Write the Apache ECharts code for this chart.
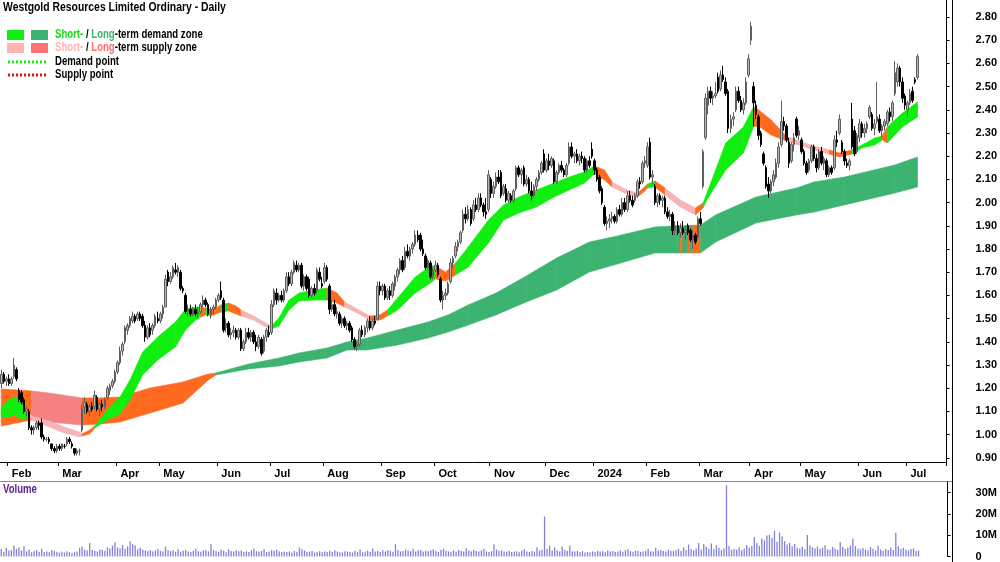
<!DOCTYPE html>
<html><head><meta charset="utf-8">
<script src="https://cdn.jsdelivr.net/npm/echarts@6.0.0/dist/echarts.min.js"></script>
<style>html,body{margin:0;padding:0;background:#fff}#c{width:1000px;height:562px}</style>
</head><body><div id="c"></div>
<script>
// ---- categories: trading days per month (first 3 = end of Jan 2023, unlabeled) ----
const monthNames = ['-','Feb','Mar','Apr','May','Jun','Jul','Aug','Sep','Oct','Nov','Dec','2024','Feb','Mar','Apr','May','Jun','Jul'];
const monthDays  = [3,20,23,17,23,21,21,23,21,22,22,19,21,21,20,20,23,19,5];
const padDays = 11;

// ---- price ticks ----
const priceTicks = [0.9,1.0,1.1,1.2,1.3,1.4,1.5,1.6,1.7,1.8,1.9,2.0,2.1,2.2,2.3,2.4,2.5,2.6,2.7,2.8];
const volTicks = [0,10e6,20e6,30e6];

// ---- OHLC ----
const open = [
1.22,1.26,1.23,1.24,1.22,1.25,1.28,1.19,1.18,1.15,
1.10,1.10,1.03,1.02,1.03,1.05,1.05,0.99,0.98,0.98,
0.96,0.94,0.93,0.95,0.94,0.95,0.96,0.98,0.96,0.94,
0.92,0.93,1.02,1.12,1.13,1.10,1.12,1.12,1.16,1.11,
1.13,1.12,1.16,1.19,1.21,1.23,1.27,1.31,1.36,1.40,
1.45,1.47,1.49,1.51,1.50,1.52,1.51,1.47,1.42,1.46,
1.45,1.47,1.50,1.49,1.52,1.55,1.70,1.66,1.68,1.71,
1.70,1.70,1.63,1.60,1.53,1.54,1.52,1.54,1.52,1.53,
1.56,1.58,1.56,1.52,1.54,1.55,1.58,1.62,1.58,1.46,
1.48,1.43,1.44,1.45,1.42,1.45,1.37,1.40,1.44,1.42,
1.44,1.40,1.38,1.41,1.36,1.42,1.44,1.44,1.56,1.61,
1.58,1.60,1.58,1.62,1.68,1.65,1.70,1.73,1.71,1.73,
1.64,1.68,1.67,1.60,1.63,1.62,1.70,1.65,1.66,1.72,
1.64,1.54,1.56,1.52,1.52,1.48,1.50,1.47,1.48,1.46,
1.41,1.38,1.39,1.45,1.43,1.46,1.49,1.46,1.49,1.50,
1.64,1.62,1.64,1.59,1.62,1.60,1.64,1.68,1.71,1.75,
1.72,1.79,1.77,1.80,1.82,1.86,1.86,1.80,1.77,1.72,
1.74,1.68,1.71,1.73,1.67,1.58,1.60,1.61,1.66,1.74,
1.77,1.81,1.83,1.88,1.95,1.93,1.97,1.93,1.99,1.97,
2.02,1.99,1.96,1.97,2.10,2.04,2.07,2.11,2.13,2.04,
2.06,2.01,2.03,2.01,2.06,2.15,2.12,2.15,2.08,2.10,
2.05,2.03,2.07,2.10,2.13,2.21,2.14,2.18,2.16,2.18,
2.09,2.13,2.16,2.14,2.12,2.17,2.24,2.20,2.21,2.18,
2.20,2.19,2.14,2.18,2.23,2.18,2.14,2.11,2.06,1.98,
1.91,1.92,1.93,1.94,1.92,1.97,1.95,2.00,1.97,2.03,
2.01,2.01,2.03,2.09,2.09,2.17,2.16,2.26,2.11,2.07,
2.00,2.03,2.01,2.02,1.96,1.94,1.95,1.88,1.90,1.87,
1.89,1.87,1.90,1.88,1.84,1.86,1.85,1.93,2.07,2.28,
2.42,2.48,2.45,2.46,2.54,2.49,2.55,2.52,2.48,2.32,
2.36,2.40,2.48,2.44,2.40,2.43,2.55,2.70,2.50,2.42,
2.37,2.30,2.21,2.15,2.08,2.05,2.09,2.11,2.17,2.25,
2.35,2.33,2.26,2.18,2.25,2.36,2.29,2.27,2.22,2.17,
2.14,2.18,2.24,2.19,2.15,2.22,2.17,2.18,2.12,2.15,
2.15,2.27,2.30,2.26,2.22,2.17,2.16,2.36,2.31,2.22,
2.28,2.34,2.30,2.32,2.37,2.38,2.32,2.35,2.36,2.31,
2.33,2.34,2.39,2.37,2.47,2.52,2.58,2.52,2.46,2.40,
2.43,2.48,2.53,2.54];
const high = [
1.28,1.27,1.25,1.26,1.25,1.33,1.29,1.20,1.19,1.16,
1.12,1.11,1.04,1.04,1.06,1.06,1.07,1.00,0.99,0.99,
0.96,0.95,0.96,0.96,0.96,0.96,0.99,0.99,0.97,0.94,
0.94,0.94,1.13,1.16,1.14,1.13,1.14,1.19,1.17,1.14,
1.15,1.16,1.21,1.22,1.24,1.28,1.32,1.38,1.40,1.47,
1.48,1.51,1.53,1.52,1.53,1.53,1.52,1.49,1.47,1.48,
1.48,1.52,1.53,1.53,1.56,1.69,1.71,1.70,1.73,1.74,
1.73,1.71,1.64,1.61,1.56,1.56,1.55,1.56,1.55,1.57,
1.60,1.59,1.57,1.55,1.56,1.59,1.61,1.66,1.59,1.50,
1.49,1.46,1.47,1.46,1.46,1.46,1.41,1.46,1.46,1.45,
1.45,1.43,1.43,1.42,1.43,1.46,1.47,1.58,1.63,1.63,
1.61,1.62,1.63,1.70,1.70,1.71,1.75,1.75,1.74,1.74,
1.69,1.69,1.68,1.64,1.65,1.72,1.72,1.68,1.74,1.73,
1.65,1.58,1.58,1.55,1.53,1.51,1.51,1.49,1.49,1.47,
1.42,1.40,1.46,1.47,1.47,1.50,1.51,1.50,1.51,1.66,
1.66,1.65,1.65,1.63,1.64,1.66,1.69,1.72,1.76,1.77,
1.81,1.82,1.81,1.83,1.88,1.88,1.87,1.84,1.78,1.76,
1.75,1.72,1.75,1.74,1.68,1.62,1.63,1.66,1.76,1.77,
1.83,1.84,1.88,1.97,1.98,1.99,1.98,2.01,2.02,2.04,
2.04,2.00,2.02,2.14,2.11,2.09,2.13,2.14,2.14,2.08,
2.08,2.05,2.04,2.06,2.16,2.16,2.15,2.16,2.12,2.11,
2.09,2.08,2.11,2.14,2.18,2.23,2.19,2.21,2.20,2.19,
2.14,2.17,2.18,2.15,2.17,2.26,2.26,2.22,2.23,2.21,
2.22,2.20,2.19,2.20,2.26,2.19,2.15,2.12,2.07,1.99,
1.94,1.95,1.96,1.95,1.98,1.99,2.02,2.02,2.05,2.05,
2.03,2.04,2.10,2.11,2.18,2.20,2.26,2.28,2.14,2.08,
2.04,2.04,2.03,2.03,1.98,1.97,1.96,1.92,1.92,1.91,
1.92,1.90,1.91,1.89,1.88,1.87,1.94,1.96,2.23,2.47,
2.50,2.50,2.48,2.52,2.56,2.57,2.59,2.54,2.49,2.38,
2.39,2.50,2.50,2.46,2.45,2.54,2.64,2.78,2.52,2.44,
2.38,2.31,2.22,2.16,2.11,2.10,2.14,2.19,2.26,2.44,
2.37,2.34,2.28,2.26,2.30,2.37,2.33,2.28,2.23,2.18,
2.19,2.25,2.25,2.21,2.23,2.24,2.20,2.19,2.16,2.16,
2.29,2.31,2.38,2.27,2.23,2.19,2.19,2.43,2.33,2.30,
2.36,2.35,2.34,2.35,2.42,2.39,2.36,2.52,2.38,2.34,
2.36,2.40,2.41,2.44,2.61,2.60,2.59,2.54,2.47,2.44,
2.49,2.50,2.54,2.64];
const low = [
1.20,1.22,1.21,1.21,1.21,1.24,1.23,1.14,1.13,1.09,
1.08,1.02,1.00,1.00,1.02,1.02,0.98,0.97,0.97,0.96,
0.93,0.92,0.92,0.93,0.93,0.94,0.95,0.96,0.94,0.91,
0.91,0.91,1.01,1.09,1.09,1.08,1.10,1.11,1.10,1.08,
1.10,1.11,1.15,1.17,1.20,1.22,1.26,1.30,1.34,1.39,
1.43,1.46,1.48,1.48,1.49,1.49,1.46,1.40,1.41,1.42,
1.43,1.46,1.48,1.48,1.50,1.55,1.64,1.65,1.67,1.69,
1.68,1.62,1.61,1.52,1.51,1.51,1.51,1.51,1.50,1.52,
1.55,1.55,1.51,1.50,1.52,1.54,1.57,1.58,1.44,1.44,
1.42,1.41,1.42,1.41,1.41,1.36,1.36,1.39,1.41,1.40,
1.39,1.36,1.37,1.34,1.35,1.40,1.42,1.43,1.55,1.56,
1.57,1.57,1.57,1.61,1.64,1.64,1.69,1.70,1.70,1.63,
1.62,1.62,1.59,1.59,1.60,1.61,1.66,1.63,1.65,1.66,
1.52,1.53,1.51,1.50,1.47,1.46,1.46,1.45,1.44,1.40,
1.37,1.36,1.38,1.42,1.42,1.44,1.45,1.45,1.47,1.49,
1.60,1.60,1.58,1.58,1.58,1.59,1.62,1.66,1.69,1.70,
1.71,1.76,1.75,1.78,1.81,1.83,1.79,1.77,1.71,1.71,
1.67,1.67,1.70,1.68,1.57,1.54,1.58,1.60,1.65,1.72,
1.76,1.79,1.82,1.87,1.91,1.92,1.90,1.92,1.96,1.96,
1.98,1.94,1.93,1.96,2.02,2.02,2.06,2.08,2.02,2.03,
2.00,2.00,2.00,2.00,2.05,2.11,2.08,2.07,2.07,2.04,
2.01,2.02,2.05,2.09,2.12,2.13,2.13,2.14,2.15,2.08,
2.08,2.12,2.13,2.11,2.11,2.16,2.19,2.17,2.17,2.16,
2.17,2.13,2.13,2.15,2.19,2.12,2.09,2.04,1.99,1.90,
1.88,1.89,1.91,1.91,1.91,1.94,1.94,1.96,1.96,2.00,
1.98,2.00,2.02,2.06,2.08,2.15,2.15,2.10,2.08,1.99,
1.98,1.99,1.98,1.95,1.93,1.92,1.86,1.86,1.86,1.85,
1.86,1.84,1.86,1.83,1.80,1.82,1.84,1.90,2.06,2.27,
2.38,2.43,2.42,2.45,2.47,2.48,2.52,2.46,2.30,2.30,
2.33,2.39,2.43,2.39,2.38,2.42,2.54,2.68,2.33,2.36,
2.27,2.24,2.16,2.06,2.02,2.04,2.07,2.10,2.15,2.24,
2.31,2.26,2.15,2.17,2.22,2.28,2.27,2.21,2.16,2.12,
2.13,2.17,2.18,2.13,2.14,2.16,2.14,2.11,2.11,2.12,
2.14,2.24,2.29,2.21,2.16,2.15,2.14,2.23,2.20,2.21,
2.26,2.28,2.28,2.30,2.36,2.31,2.29,2.34,2.30,2.28,
2.31,2.33,2.35,2.35,2.46,2.50,2.50,2.43,2.40,2.37,
2.42,2.43,2.51,2.53];
const close = [
1.26,1.23,1.24,1.22,1.24,1.30,1.24,1.15,1.14,1.10,
1.11,1.03,1.02,1.03,1.05,1.04,0.99,0.98,0.98,0.97,
0.94,0.93,0.95,0.94,0.96,0.95,0.98,0.97,0.95,0.92,
0.93,0.93,1.11,1.14,1.10,1.12,1.11,1.17,1.11,1.13,
1.12,1.15,1.20,1.21,1.23,1.27,1.31,1.36,1.39,1.46,
1.47,1.50,1.51,1.49,1.52,1.50,1.47,1.42,1.46,1.43,
1.47,1.51,1.49,1.52,1.55,1.67,1.66,1.68,1.72,1.70,
1.72,1.63,1.62,1.53,1.54,1.52,1.54,1.52,1.53,1.56,
1.58,1.56,1.52,1.54,1.55,1.58,1.60,1.59,1.45,1.48,
1.43,1.44,1.45,1.42,1.45,1.37,1.40,1.44,1.42,1.44,
1.40,1.38,1.42,1.35,1.42,1.45,1.43,1.56,1.62,1.58,
1.60,1.58,1.62,1.68,1.65,1.70,1.74,1.71,1.73,1.64,
1.68,1.63,1.60,1.63,1.61,1.71,1.67,1.64,1.72,1.67,
1.54,1.56,1.52,1.53,1.48,1.50,1.47,1.48,1.45,1.41,
1.38,1.39,1.45,1.43,1.46,1.49,1.46,1.49,1.48,1.64,
1.62,1.64,1.59,1.62,1.60,1.65,1.68,1.71,1.75,1.71,
1.79,1.77,1.80,1.82,1.86,1.84,1.80,1.78,1.72,1.75,
1.68,1.71,1.73,1.69,1.58,1.60,1.61,1.65,1.74,1.76,
1.81,1.83,1.87,1.95,1.93,1.97,1.91,1.99,1.97,2.02,
1.99,1.96,1.95,2.12,2.04,2.07,2.11,2.09,2.03,2.07,
2.01,2.04,2.01,2.05,2.15,2.12,2.14,2.08,2.10,2.05,
2.03,2.07,2.10,2.13,2.17,2.14,2.18,2.16,2.19,2.09,
2.13,2.16,2.14,2.12,2.16,2.24,2.20,2.21,2.18,2.20,
2.19,2.14,2.18,2.16,2.20,2.14,2.10,2.05,2.00,1.91,
1.92,1.93,1.94,1.92,1.97,1.95,2.00,1.97,2.03,2.01,
1.99,2.03,2.09,2.08,2.17,2.18,2.24,2.11,2.12,2.00,
2.03,2.01,2.02,1.96,1.94,1.95,1.88,1.90,1.87,1.89,
1.87,1.88,1.87,1.84,1.86,1.83,1.93,1.91,2.22,2.45,
2.48,2.45,2.46,2.47,2.48,2.55,2.53,2.47,2.32,2.36,
2.37,2.48,2.44,2.40,2.43,2.52,2.62,2.76,2.43,2.38,
2.29,2.25,2.17,2.07,2.05,2.09,2.12,2.17,2.24,2.35,
2.33,2.27,2.17,2.25,2.28,2.29,2.31,2.22,2.17,2.13,
2.18,2.24,2.19,2.15,2.22,2.17,2.19,2.12,2.15,2.13,
2.27,2.26,2.36,2.22,2.18,2.16,2.18,2.24,2.21,2.29,
2.34,2.30,2.32,2.34,2.41,2.32,2.34,2.37,2.31,2.33,
2.35,2.39,2.37,2.43,2.56,2.58,2.52,2.45,2.42,2.43,
2.47,2.44,2.52,2.63];

// ---- volume (millions) ----
const volume = [
3.5,2.2,4.1,2.8,3.0,5.2,3.6,4.4,2.9,4.8,2.5,3.3,2.0,2.6,3.1,2.2,3.6,2.1,2.4,2.0,
3.0,2.6,2.2,1.8,2.3,1.9,2.5,2.0,1.7,2.2,2.4,4.1,4.6,3.2,2.8,6.3,3.1,2.6,2.4,3.3,
3.0,2.7,4.3,3.8,5.1,6.7,4.2,3.9,5.4,3.6,4.8,7.2,5.9,5.3,3.4,4.1,3.2,2.8,2.6,3.0,
2.4,2.9,3.5,2.7,2.5,4.6,3.1,2.6,2.9,2.3,3.4,2.2,2.7,3.0,2.4,2.1,2.8,3.6,2.5,2.2,
2.9,3.1,2.4,5.8,3.0,2.6,2.3,3.3,2.7,2.0,3.4,2.6,2.3,2.9,2.5,2.8,2.2,2.4,2.1,3.0,
3.7,2.5,2.2,2.6,3.4,2.1,2.3,3.0,2.7,3.2,2.5,2.0,2.4,2.1,2.3,1.9,2.6,2.2,4.2,3.4,
2.8,2.1,2.3,2.6,1.9,2.2,2.5,2.0,2.3,2.1,2.7,2.2,2.9,2.4,2.0,1.9,2.5,2.3,2.2,1.8,
2.6,2.1,3.3,2.0,2.4,2.7,2.2,3.8,2.3,2.6,2.1,2.9,2.4,3.1,2.7,2.2,5.8,3.0,2.4,2.6,
3.3,2.8,2.5,3.6,2.4,2.9,3.0,2.3,2.7,2.5,2.9,3.4,2.6,2.1,3.0,3.7,2.8,2.4,2.2,2.9,
2.3,3.1,2.6,2.4,3.9,2.8,2.5,3.2,2.6,2.3,2.9,3.6,2.4,2.1,2.5,5.7,3.3,2.6,2.9,2.4,
2.2,2.7,2.1,2.3,2.5,2.0,2.8,3.4,2.4,2.1,2.6,2.3,4.4,2.8,3.2,18.8,3.6,5.1,2.8,4.2,
2.9,2.5,4.6,3.1,2.7,5.0,2.4,2.3,2.6,2.1,2.5,1.9,2.2,2.0,2.4,2.1,2.7,2.3,2.5,2.0,
2.8,2.3,2.6,2.1,2.4,2.9,2.2,3.0,3.4,2.5,2.2,2.8,2.6,2.1,2.4,2.7,3.5,2.5,2.3,4.1,
2.8,3.0,2.6,2.4,3.2,2.7,2.5,2.9,3.7,2.6,4.3,3.1,5.6,3.4,2.9,3.8,6.4,3.2,5.9,4.6,
3.6,6.1,3.4,5.3,4.1,3.0,3.7,33.5,4.8,3.1,3.5,3.2,4.3,2.9,3.6,5.4,4.2,4.9,9.2,6.3,
5.1,8.4,7.6,9.9,10.2,8.8,12.1,6.9,11.3,9.4,7.2,5.6,6.5,4.8,5.9,4.1,3.8,4.6,3.5,10.1,
5.2,4.3,3.9,4.7,3.6,4.1,5.3,3.4,3.0,4.5,3.8,3.2,6.8,4.6,3.5,4.1,5.2,8.3,4.9,3.7,
3.4,4.0,3.1,2.8,4.4,3.6,2.9,5.1,3.3,2.7,3.5,3.0,4.2,3.1,11.2,4.8,3.6,4.1,3.3,2.9,
3.5,3.9,2.6,2.8];

// ---- zones: [dayIndex, lower, upper, state]  D = demand, S = supply, X = transition ----
const shortZone = [
[0,1.076,1.119,'D'],[3,1.076,1.149,'D'],[5,1.084,1.162,'D'],[7,1.072,1.153,'D'],[9,1.063,1.128,'D'],
[11,1.089,1.097,'S'],[12,1.063,1.080,'S'],[19,1.033,1.059,'S'],[25,1.007,1.033,'S'],[31,0.990,1.011,'S'],
[32,0.994,1.003,'X'],[35,1.003,1.020,'X'],[37,1.028,1.037,'D'],[42,1.063,1.106,'D'],[47,1.089,1.162,'D'],
[51,1.149,1.235,'D'],[56,1.257,1.356,'D'],[62,1.322,1.421,'D'],[69,1.378,1.485,'D'],[73,1.451,1.541,'D'],
[77,1.494,1.550,'D'],[79,1.507,1.550,'X'],[81,1.516,1.546,'D'],[83,1.511,1.541,'X'],[85,1.520,1.546,'X'],
[87,1.528,1.559,'D'],[90,1.533,1.567,'X'],[93,1.520,1.554,'X'],[95,1.511,1.537,'S'],[100,1.494,1.511,'S'],
[104,1.468,1.485,'S'],[107,1.455,1.468,'D'],[110,1.468,1.503,'D'],[114,1.537,1.580,'D'],[118,1.576,1.610,'D'],
[124,1.580,1.623,'D'],[129,1.580,1.632,'X'],[133,1.567,1.610,'X'],[136,1.550,1.572,'S'],[141,1.524,1.541,'S'],
[146,1.494,1.511,'X'],[150,1.494,1.516,'X'],[153,1.511,1.537,'D'],[157,1.537,1.589,'D'],[164,1.610,1.679,'D'],
[170,1.653,1.727,'D'],[172,1.671,1.727,'X'],[176,1.662,1.701,'X'],[180,1.688,1.740,'D'],[185,1.722,1.809,'D'],
[193,1.826,1.925,'D'],[199,1.925,1.990,'D'],[205,1.955,2.024,'D'],[212,1.981,2.054,'D'],[219,2.024,2.084,'D'],
[225,2.054,2.110,'D'],[231,2.084,2.132,'D'],[235,2.123,2.158,'X'],[239,2.097,2.141,'X'],[242,2.067,2.089,'S'],
[247,2.041,2.059,'S'],[252,2.024,2.041,'X'],[254,2.041,2.059,'X'],[256,2.063,2.080,'D'],[259,2.067,2.093,'X'],
[263,2.033,2.063,'S'],[269,1.981,2.011,'S'],[275,1.947,1.977,'X'],[278,1.977,1.998,'D'],[280,2.020,2.054,'D'],
[287,2.141,2.257,'D'],[294,2.214,2.326,'D'],[298,2.326,2.412,'X'],[300,2.330,2.400,'X'],[305,2.291,2.356,'X'],
[311,2.266,2.287,'S'],[316,2.248,2.266,'S'],[322,2.227,2.244,'S'],[328,2.209,2.227,'X'],[332,2.197,2.214,'X'],
[337,2.209,2.227,'D'],[341,2.235,2.248,'D'],[346,2.248,2.278,'D'],[349,2.270,2.287,'X'],[351,2.257,2.326,'D'],
[357,2.326,2.386,'D'],[363,2.369,2.434,'D']];
const longZone = [
[0,1.037,1.197,'X'],[12,1.063,1.188,'S'],[19,1.054,1.179,'S'],[32,1.041,1.158,'X'],[39,1.046,1.158,'X'],
[47,1.054,1.162,'X'],[59,1.093,1.201,'X'],[72,1.136,1.227,'X'],[82,1.235,1.261,'X'],[85,1.257,1.266,'D'],
[98,1.283,1.304,'D'],[110,1.296,1.330,'D'],[118,1.313,1.352,'D'],[129,1.330,1.373,'D'],[137,1.365,1.399,'D'],
[145,1.365,1.416,'D'],[157,1.386,1.451,'D'],[169,1.416,1.485,'D'],[177,1.442,1.516,'D'],[185,1.472,1.559,'D'],
[196,1.516,1.610,'D'],[208,1.572,1.684,'D'],[220,1.623,1.761,'D'],[233,1.701,1.830,'D'],[244,1.735,1.856,'D'],
[259,1.783,1.895,'D'],[268,1.783,1.900,'D'],[269,1.783,1.900,'X'],[270,1.783,1.900,'D'],[272,1.783,1.901,'X'],
[273,1.783,1.901,'D'],[274,1.783,1.902,'X'],[277,1.783,1.903,'D'],[283,1.830,1.947,'D'],[299,1.912,2.024,'D'],
[315,1.947,2.063,'D'],[322,1.959,2.089,'D'],[334,1.990,2.110,'D'],[354,2.041,2.162,'D'],[363,2.067,2.197,'D']];

// ---------------- build ----------------
const FONT = '"Liberation Sans",Arial,sans-serif';
const cats = [];
monthNames.forEach((m, k) => { for (let d = 1; d <= monthDays[k]; d++) cats.push(m + '#' + d); });
for (let d = 1; d <= padDays; d++) cats.push('pad#' + d);
const showTick = (idx, v) => { const p = String(v).split('#'); return p[1] === '1' && p[0] !== '-' && p[0] !== 'pad'; };

const shortColors = { D: '#10ee10', S: '#f6b4b4', X: '#ff6a1e' };
const longColors  = { D: '#3cb371', S: '#f58282', X: '#ff6a1e' };

function bandRender(zone, colors) {
  return function (params, api) {
    const k = params.dataIndex;
    if (k >= zone.length - 1) return null;
    const a = zone[k], b = zone[k + 1];
    const pts = [api.coord([a[0], a[1]]), api.coord([b[0], b[1]]), api.coord([b[0], b[2]]), api.coord([a[0], a[2]])];
    const c = colors[a[3]];
    return { type: 'polygon', shape: { points: pts }, style: { fill: c, stroke: c, lineWidth: 0.6 } };
  };
}

const candleData = open.map((o, i) => [o, close[i], low[i], high[i]]);
const volData = volume.map(v => v * 1e6);

// narrow-looking text: bold Liberation Sans squeezed horizontally
const SQ = 0.8;
const ntext = (x, y, text, size, extra) => ({ type: 'text', x: x, y: y, scaleX: SQ, silent: true,
  style: Object.assign({ text: text, font: 'bold ' + size + 'px ' + FONT, fill: '#000', verticalAlign: 'middle', align: 'left' }, extra || {}) });
const richLeg = (a, aCol, b, bCol, rest) => ({
  text: '{a|' + a + '}{k| / }{b|' + b + '}{k|' + rest + '}',
  rich: { a: { fill: aCol, font: 'bold 12px ' + FONT }, b: { fill: bCol, font: 'bold 12px ' + FONT },
          k: { fill: '#000', font: 'bold 12px ' + FONT } } });

const chart = echarts.init(document.getElementById('c'), null, { renderer: 'canvas' });
chart.setOption({
  animation: false,
  backgroundColor: '#fff',
  grid: [
    { left: 0, right: 48, top: 0, height: 462, containLabel: false },
    { left: 0, right: 48, top: 482, height: 78, containLabel: false }
  ],
  xAxis: [
    { type: 'category', gridIndex: 0, data: cats, boundaryGap: true,
      axisLine: { show: true, lineStyle: { color: '#000', width: 1 } },
      axisTick: { show: true, interval: showTick, length: 4, lineStyle: { color: '#000' } },
      axisLabel: { show: true, interval: showTick, formatter: v => v.split('#')[0], align: 'left', margin: 6,
        padding: [0, 0, 0, 3], fontFamily: FONT, fontWeight: 'bold', fontSize: 11, color: '#000' },
      splitLine: { show: false } },
    { type: 'category', gridIndex: 1, data: cats, boundaryGap: true,
      axisLine: { show: false }, axisTick: { show: false }, axisLabel: { show: false }, splitLine: { show: false } }
  ],
  yAxis: [
    { type: 'value', gridIndex: 0, position: 'right', min: 0.8819, max: 2.8733,
      axisLine: { show: true, lineStyle: { color: '#000' } },
      axisTick: { show: true, customValues: priceTicks, length: 3, lineStyle: { color: '#000' } },
      axisLabel: { customValues: priceTicks, formatter: v => v.toFixed(2), margin: 29, align: 'left',
        fontFamily: FONT, fontWeight: 'bold', fontSize: 11, color: '#000' },
      splitLine: { show: false } },
    { type: 'value', gridIndex: 1, position: 'right', min: 0, max: 35e6,
      axisLine: { show: true, lineStyle: { color: '#000' } },
      axisTick: { show: true, customValues: volTicks, length: 3, lineStyle: { color: '#000' } },
      axisLabel: { customValues: volTicks, formatter: v => v === 0 ? '0' : (v / 1e6) + 'M', margin: 28, align: 'left',
        fontFamily: FONT, fontWeight: 'bold', fontSize: 11, color: '#000' },
      splitLine: { show: false } }
  ],
  series: [
    { type: 'custom', name: 'Long-term zone', xAxisIndex: 0, yAxisIndex: 0, z: 1, silent: true,
      data: longZone.map(r => [r[0], r[1], r[2]]), encode: { x: 0, y: [1, 2] },
      renderItem: bandRender(longZone, longColors) },
    { type: 'custom', name: 'Short-term zone', xAxisIndex: 0, yAxisIndex: 0, z: 2, silent: true,
      data: shortZone.map(r => [r[0], r[1], r[2]]), encode: { x: 0, y: [1, 2] },
      renderItem: bandRender(shortZone, shortColors) },
    { type: 'candlestick', name: 'Price', xAxisIndex: 0, yAxisIndex: 0, z: 3, data: candleData, barWidth: 2,
      itemStyle: { color: '#b4b4b4', color0: '#000000', borderColor: '#5e5e5e', borderColor0: '#000000', borderWidth: 1 } },
    { type: 'bar', name: 'Volume', xAxisIndex: 1, yAxisIndex: 1, data: volData, barWidth: 1.3,
      itemStyle: { color: '#8282da' } }
  ],
  graphic: [
    ntext(3, 7, 'Westgold Resources Limited Ordinary - Daily', 13),
    { type: 'rect', left: 7, top: 30, shape: { width: 17, height: 10 }, style: { fill: '#10ee10' }, silent: true },
    { type: 'rect', left: 31, top: 30, shape: { width: 17, height: 10 }, style: { fill: '#3cb371' }, silent: true },
    { type: 'rect', left: 7, top: 43, shape: { width: 17, height: 10 }, style: { fill: '#ffb3b3' }, silent: true },
    { type: 'rect', left: 31, top: 43, shape: { width: 17, height: 10 }, style: { fill: '#ff7575' }, silent: true },
    { type: 'text', x: 55, y: 35, scaleX: SQ, silent: true,
      style: Object.assign({ verticalAlign: 'middle', align: 'left' }, richLeg('Short-', '#10dd10', 'Long', '#3cb371', '-term demand zone')) },
    { type: 'text', x: 55, y: 48, scaleX: SQ, silent: true,
      style: Object.assign({ verticalAlign: 'middle', align: 'left' }, richLeg('Short-', '#ffb3b3', 'Long', '#ff6f6f', '-term supply zone')) },
    { type: 'line', silent: true, shape: { x1: 8, y1: 62, x2: 46, y2: 62 }, style: { stroke: '#10ee10', lineWidth: 3, lineDash: [2, 2] } },
    { type: 'line', silent: true, shape: { x1: 8, y1: 75, x2: 46, y2: 75 }, style: { stroke: '#ee1111', lineWidth: 3, lineDash: [2, 2] } },
    ntext(55, 62, 'Demand point', 12),
    ntext(55, 75, 'Supply point', 12),
    ntext(3, 490, 'Volume', 12, { fill: '#5b2290' }),
    { type: 'line', silent: true, shape: { x1: 0, y1: 481.5, x2: 952, y2: 481.5 }, style: { stroke: '#888', lineWidth: 1 } },
    { type: 'line', silent: true, shape: { x1: 952.5, y1: 0, x2: 952.5, y2: 562 }, style: { stroke: '#000', lineWidth: 1 } }
  ]
});
</script>
</body></html>
